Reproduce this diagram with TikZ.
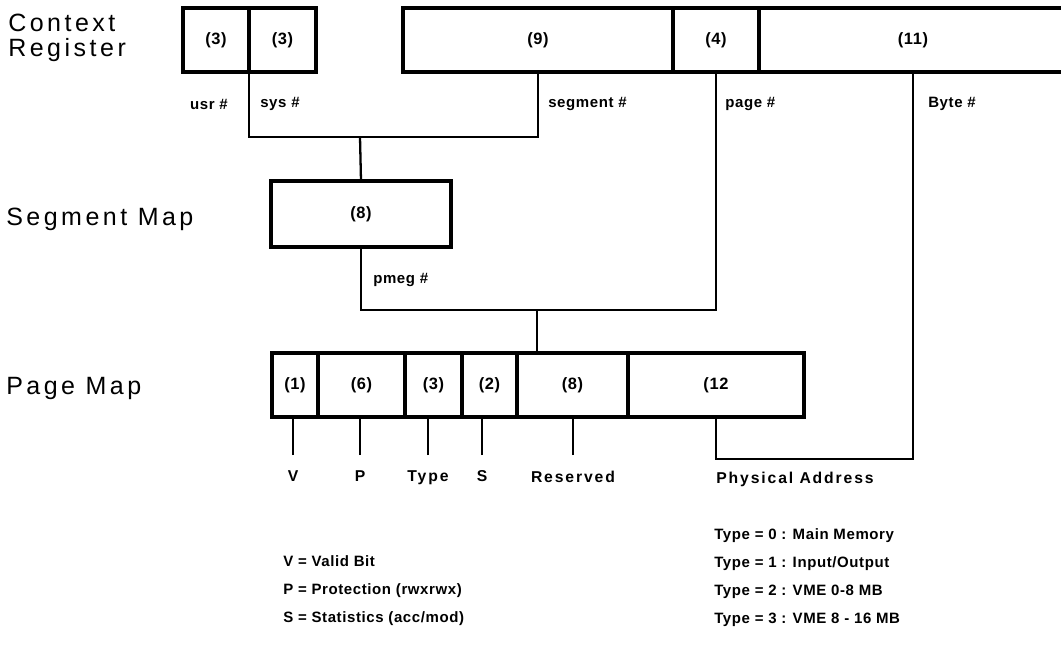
\documentclass[tikz,border=0pt]{standalone}
\usepackage{fontspec}
\setmainfont{Liberation Sans}
\newfontfamily\sidefont[LetterSpace=14]{Liberation Sans}
\newfontfamily\tagfont[LetterSpace=4]{Liberation Sans}
\newfontfamily\widefont[LetterSpace=12]{Liberation Sans}
\usetikzlibrary{positioning}
\tikzset{
  field/.style={draw, line width=2.2pt, inner sep=0pt, outer sep=0pt, minimum height=44.8pt,
    font=\tagfont\fontsize{11.5}{13}\selectfont\bfseries},
  link/.style={line width=1.6pt},
  tag/.style={inner sep=0pt, font=\tagfont\fontsize{10.5}{12}\selectfont\bfseries},
  widetag/.style={inner sep=0pt, font=\widefont\fontsize{11}{12}\selectfont\bfseries},
  droptag/.style={widetag, outer sep=11pt},
  side/.style={inner sep=0pt, align=left, font=\sidefont\fontsize{17.5}{17.5}\selectfont},
  legend/.style={inner sep=0pt, align=left, font=\tagfont\fontsize{10.5}{19.6}\selectfont\bfseries}
}
\begin{document}
\begin{tikzpicture}[x=0.7pt, y=-0.7pt]
    \useasboundingbox (0,0) rectangle (1061,647);
    % context register
    \node[side, anchor=west] (ctxname) at (8,38) {Context\\Register};
    \node[field, anchor=west, minimum width=46.2pt] (usr) at (183,40) {(3)};
    \node[field, right=0pt of usr, minimum width=46.9pt] (sys) {(3)};
    \node[field, anchor=west, minimum width=189pt] (seg) at (403,40) {(9)};
    \node[field, right=0pt of seg, minimum width=60.2pt] (pg) {(4)};
    \node[field, right=0pt of pg, minimum width=215.6pt] (byte) {(11)};

    % segment map
    \node[side, anchor=west] (segname) at (6,219) {Segment Map};
    \node[field, anchor=west, minimum width=126pt, minimum height=46.2pt] (segmap) at (271,214) {(8)};

    % page map
    \node[side, anchor=west] (pgname) at (6,388) {Page Map};
    \node[field, anchor=west, minimum width=32.2pt] (pV) at (272,385) {(1)};
    \node[field, right=0pt of pV, minimum width=60.9pt] (pP) {(6)};
    \node[field, right=0pt of pP, minimum width=39.9pt] (pT) {(3)};
    \node[field, right=0pt of pT, minimum width=38.5pt] (pS) {(2)};
    \node[field, right=0pt of pS, minimum width=77.7pt] (pR) {(8)};
    \node[field, right=0pt of pR, minimum width=123.2pt] (pPh) {(12};

    % connector labels
    \node[tag, anchor=east] (lusr) at (228,104) {usr \#};
    \node[tag, anchor=west] (lsys) at (260,104) {sys \#};
    \node[tag, anchor=west] (lseg) at (548,104) {segment \#};
    \node[tag, anchor=west] (lpg) at (725,104) {page \#};
    \node[tag, anchor=west] (lbyte) at (928,104) {Byte \#};
    \node[tag, anchor=west] (lpmeg) at (373,280) {pmeg \#};

    % selection of the segment map entry
    \coordinate (selbus) at (360,137);
    \draw[link] (usr.south east) |- (selbus) -| (seg.south);
    \draw[link] (selbus) -- (segmap.north);

    % selection of the page map entry
    \coordinate (pmegbus) at (537,310);
    \draw[link] (segmap.south) |- (pmegbus) -| (pg.south);
    \draw[link] (pmegbus) -- (pmegbus |- pV.north);

    % byte offset joins the physical address
    \coordinate (physbus) at (pPh.south |- 0,459);
    \draw[link] (byte.south) |- (physbus) -- (pPh.south);
    \node[widetag, anchor=west] (lphys) at (716,479) {Physical Address};

    % page map fields
    \node[droptag, anchor=north] (lV) at (293,455) {V};
    \node[droptag, anchor=north] (lP) at (360,455) {P};
    \node[droptag, anchor=north] (lT) at (428,455) {Type};
    \node[droptag, anchor=north] (lS) at (482,455) {S};
    \node[droptag, anchor=north] (lR) at (573,455) {Reserved};
    \draw[link] (lV.north) -- (lV.north |- pV.south);
    \draw[link] (lP.north) -- (lP.north |- pP.south);
    \draw[link] (lT.north) -- (lT.north |- pT.south);
    \draw[link] (lS.north) -- (lS.north |- pS.south);
    \draw[link] (lR.north) -- (lR.north |- pR.south);

    % legends
    \node[legend, anchor=west] (keybits) at (283,591) {V = Valid Bit\\P = Protection (rwxrwx)\\S = Statistics (acc/mod)};
    \node[legend, anchor=west] (keytype) at (714,578) {Type = 0 : Main Memory\\Type = 1 : Input/Output\\Type = 2 : VME 0-8 MB\\Type = 3 : VME 8 - 16 MB};
\end{tikzpicture}
\end{document}
